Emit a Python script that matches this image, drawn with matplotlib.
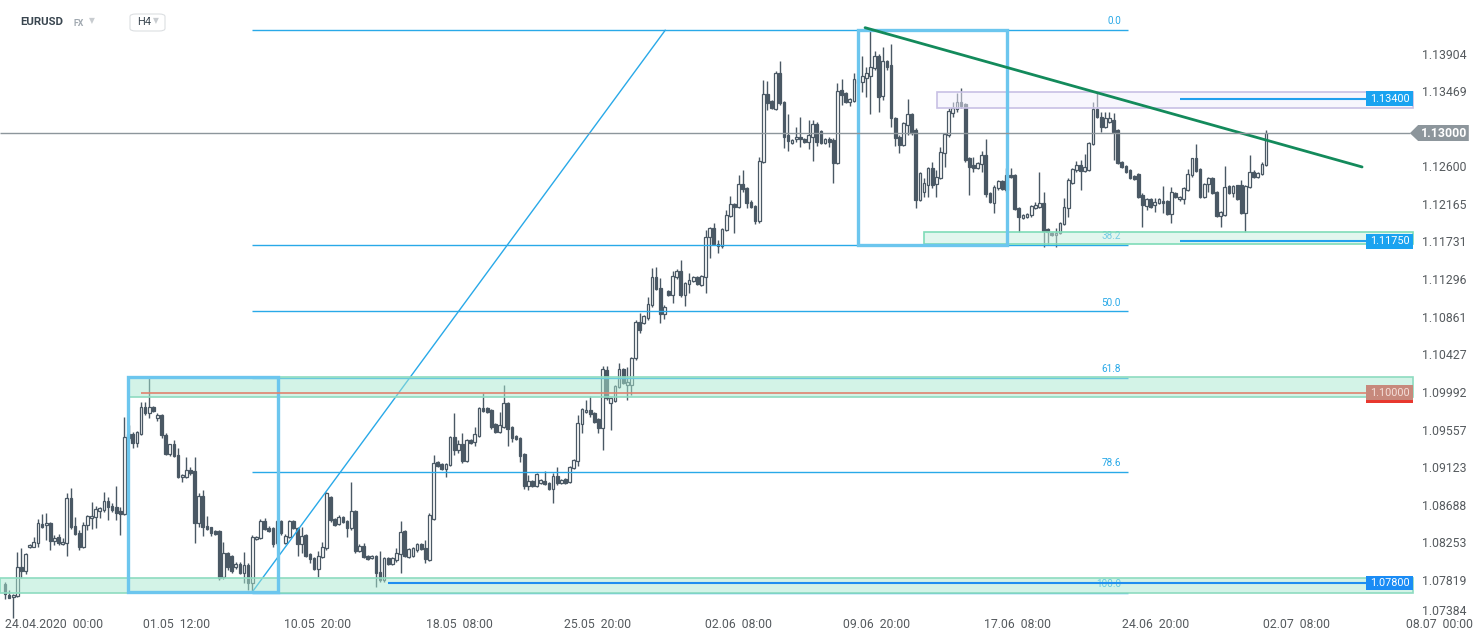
import matplotlib
matplotlib.use("Agg")
import matplotlib.pyplot as plt
from matplotlib.patches import Rectangle, Polygon, FancyBboxPatch
from matplotlib.colors import to_rgba

# EURUSD H4 candles
opens = [
    1.0779, 1.0766, 1.0764, 1.0765, 1.0799, 1.0794, 1.0822, 1.0822, 1.0826, 1.0848,
    1.0847, 1.0849, 1.0829, 1.0833, 1.0825, 1.0826, 1.0878, 1.0846, 1.0838, 1.0822,
    1.0847, 1.0855, 1.0856, 1.0863, 1.0864, 1.0875, 1.0869, 1.0868, 1.0863, 1.0860,
    1.0948, 1.0952, 1.0942, 1.0952, 1.0984, 1.0977, 1.0984, 1.0971, 1.0974, 1.0951,
    1.0929, 1.0941, 1.0928, 1.0903, 1.0903, 1.0911, 1.0910, 1.0849, 1.0881, 1.0846,
    1.0845, 1.0840, 1.0840, 1.0787, 1.0815, 1.0811, 1.0799, 1.0802, 1.0792, 1.0801,
    1.0780, 1.0831, 1.0832, 1.0852, 1.0844, 1.0844, 1.0826, 1.0852, 1.0826, 1.0833,
    1.0852, 1.0844, 1.0825, 1.0836, 1.0814, 1.0809, 1.0796, 1.0810, 1.0821, 1.0879,
    1.0854, 1.0848, 1.0856, 1.0852, 1.0844, 1.0863, 1.0817, 1.0823, 1.0811, 1.0809,
    1.0811, 1.0793, 1.0784, 1.0809, 1.0802, 1.0807, 1.0814, 1.0840, 1.0810, 1.0811,
    1.0818, 1.0825, 1.0820, 1.0807, 1.0854, 1.0920, 1.0918, 1.0912, 1.0916, 1.0949,
    1.0934, 1.0941, 1.0921, 1.0945, 1.0943, 1.0950, 1.0982, 1.0982, 1.0980, 1.0964,
    1.0955, 1.0960, 1.0988, 1.0960, 1.0950, 1.0948, 1.0929, 1.0892, 1.0898, 1.0892,
    1.0896, 1.0898, 1.0896, 1.0889, 1.0904, 1.0896, 1.0900, 1.0897, 1.0913, 1.0921,
    1.0964, 1.0978, 1.0980, 1.0977, 1.0970, 1.0959, 1.1026, 1.0988, 1.0990, 1.1007,
    1.1027, 1.1009, 1.1009, 1.1040, 1.1082, 1.1081, 1.1086, 1.1101, 1.1134, 1.1121,
    1.1091, 1.1118, 1.1113, 1.1134, 1.1141, 1.1113, 1.1126, 1.1129, 1.1134, 1.1125,
    1.1134, 1.1180, 1.1190, 1.1172, 1.1170, 1.1188, 1.1204, 1.1218, 1.1215, 1.1241,
    1.1237, 1.1220, 1.1216, 1.1199, 1.1267, 1.1345, 1.1337, 1.1328, 1.1370, 1.1336,
    1.1298, 1.1289, 1.1293, 1.1296, 1.1293, 1.1290, 1.1296, 1.1311, 1.1303, 1.1289,
    1.1293, 1.1292, 1.1266, 1.1350, 1.1347, 1.1336, 1.1337, 1.1362, 1.1359, 1.1364,
    1.1366, 1.1375, 1.1389, 1.1343, 1.1383, 1.1379, 1.1318, 1.1296, 1.1286, 1.1309,
    1.1322, 1.1304, 1.1223, 1.1232, 1.1240, 1.1260, 1.1241, 1.1248, 1.1277, 1.1298,
    1.1323, 1.1328, 1.1336, 1.1334, 1.1271, 1.1263, 1.1260, 1.1264, 1.1275, 1.1231,
    1.1219, 1.1237, 1.1245, 1.1234, 1.1252, 1.1252, 1.1214, 1.1202, 1.1203, 1.1205,
    1.1214, 1.1215, 1.1219, 1.1189, 1.1185, 1.1182, 1.1185, 1.1195, 1.1214, 1.1242,
    1.1257, 1.1263, 1.1256, 1.1257, 1.1288, 1.1328, 1.1319, 1.1307, 1.1313, 1.1315,
    1.1304, 1.1267, 1.1262, 1.1257, 1.1251, 1.1253, 1.1229, 1.1216, 1.1224, 1.1217,
    1.1219, 1.1222, 1.1222, 1.1207, 1.1231, 1.1224, 1.1224, 1.1234, 1.1252, 1.1271,
    1.1259, 1.1226, 1.1241, 1.1248, 1.1232, 1.1204, 1.1205, 1.1239, 1.1231, 1.1240,
    1.1240, 1.1208, 1.1238, 1.1255, 1.1249, 1.1253, 1.1263,
]
highs = [
    1.0781, 1.0772, 1.0767, 1.0816, 1.0821, 1.0815, 1.0825, 1.0833, 1.0854, 1.0860,
    1.0861, 1.0850, 1.0836, 1.0837, 1.0832, 1.0884, 1.0890, 1.0856, 1.0841, 1.0850,
    1.0859, 1.0874, 1.0869, 1.0868, 1.0885, 1.0879, 1.0873, 1.0892, 1.0868, 1.0972,
    1.0963, 1.0955, 1.0956, 1.0989, 1.0989, 1.1017, 1.0985, 1.0977, 1.0975, 1.0954,
    1.0941, 1.0945, 1.0936, 1.0906, 1.0926, 1.0914, 1.0926, 1.0884, 1.0888, 1.0857,
    1.0845, 1.0841, 1.0841, 1.0828, 1.0816, 1.0812, 1.0804, 1.0804, 1.0816, 1.0803,
    1.0836, 1.0834, 1.0854, 1.0855, 1.0846, 1.0845, 1.0853, 1.0853, 1.0837, 1.0853,
    1.0853, 1.0845, 1.0845, 1.0837, 1.0815, 1.0810, 1.0817, 1.0828, 1.0885, 1.0881,
    1.0855, 1.0859, 1.0857, 1.0853, 1.0897, 1.0864, 1.0825, 1.0826, 1.0812, 1.0812,
    1.0812, 1.0817, 1.0810, 1.0810, 1.0810, 1.0820, 1.0852, 1.0841, 1.0820, 1.0822,
    1.0826, 1.0826, 1.0830, 1.0861, 1.0928, 1.0921, 1.0919, 1.0919, 1.0950, 1.0977,
    1.0945, 1.0954, 1.0947, 1.0947, 1.0960, 1.0984, 1.1000, 1.0984, 1.0981, 1.0965,
    1.0978, 1.1009, 1.0989, 1.0962, 1.0951, 1.0949, 1.0930, 1.0905, 1.0899, 1.0907,
    1.0900, 1.0910, 1.0897, 1.0907, 1.0914, 1.0900, 1.0901, 1.0915, 1.0923, 1.0974,
    1.0982, 1.0992, 1.0996, 1.0978, 1.0971, 1.1031, 1.1031, 1.0995, 1.1009, 1.1034,
    1.1029, 1.1030, 1.1041, 1.1084, 1.1092, 1.1090, 1.1111, 1.1144, 1.1145, 1.1133,
    1.1101, 1.1119, 1.1141, 1.1143, 1.1153, 1.1128, 1.1138, 1.1135, 1.1135, 1.1136,
    1.1188, 1.1192, 1.1196, 1.1177, 1.1190, 1.1211, 1.1227, 1.1219, 1.1252, 1.1257,
    1.1238, 1.1223, 1.1217, 1.1272, 1.1362, 1.1360, 1.1338, 1.1372, 1.1384, 1.1337,
    1.1322, 1.1293, 1.1307, 1.1319, 1.1294, 1.1315, 1.1315, 1.1313, 1.1304, 1.1294,
    1.1296, 1.1294, 1.1358, 1.1363, 1.1348, 1.1341, 1.1370, 1.1363, 1.1389, 1.1377,
    1.1419, 1.1395, 1.1392, 1.1400, 1.1385, 1.1403, 1.1319, 1.1298, 1.1313, 1.1340,
    1.1323, 1.1306, 1.1255, 1.1248, 1.1261, 1.1267, 1.1257, 1.1284, 1.1300, 1.1329,
    1.1336, 1.1347, 1.1352, 1.1335, 1.1273, 1.1273, 1.1267, 1.1279, 1.1293, 1.1232,
    1.1240, 1.1246, 1.1246, 1.1260, 1.1260, 1.1253, 1.1215, 1.1207, 1.1208, 1.1217,
    1.1221, 1.1255, 1.1232, 1.1190, 1.1186, 1.1190, 1.1197, 1.1225, 1.1248, 1.1260,
    1.1268, 1.1269, 1.1276, 1.1290, 1.1336, 1.1347, 1.1325, 1.1325, 1.1325, 1.1323,
    1.1305, 1.1268, 1.1263, 1.1259, 1.1252, 1.1254, 1.1231, 1.1225, 1.1225, 1.1225,
    1.1225, 1.1239, 1.1223, 1.1238, 1.1232, 1.1227, 1.1238, 1.1259, 1.1271, 1.1288,
    1.1260, 1.1242, 1.1249, 1.1249, 1.1233, 1.1210, 1.1262, 1.1240, 1.1240, 1.1240,
    1.1246, 1.1240, 1.1275, 1.1257, 1.1255, 1.1267, 1.1304,
]
lows = [
    1.0761, 1.0763, 1.0740, 1.0764, 1.0786, 1.0790, 1.0821, 1.0822, 1.0822, 1.0844,
    1.0830, 1.0818, 1.0824, 1.0824, 1.0824, 1.0811, 1.0843, 1.0836, 1.0818, 1.0821,
    1.0841, 1.0843, 1.0844, 1.0855, 1.0862, 1.0853, 1.0862, 1.0853, 1.0836, 1.0859,
    1.0945, 1.0936, 1.0937, 1.0951, 1.0974, 1.0971, 1.0978, 1.0967, 1.0948, 1.0928,
    1.0927, 1.0926, 1.0901, 1.0897, 1.0901, 1.0905, 1.0826, 1.0845, 1.0834, 1.0841,
    1.0834, 1.0836, 1.0784, 1.0785, 1.0795, 1.0792, 1.0796, 1.0791, 1.0780, 1.0772,
    1.0769, 1.0830, 1.0831, 1.0841, 1.0839, 1.0822, 1.0824, 1.0836, 1.0825, 1.0832,
    1.0843, 1.0811, 1.0815, 1.0810, 1.0803, 1.0795, 1.0787, 1.0809, 1.0818, 1.0851,
    1.0846, 1.0847, 1.0849, 1.0833, 1.0841, 1.0815, 1.0816, 1.0809, 1.0807, 1.0808,
    1.0775, 1.0781, 1.0781, 1.0801, 1.0801, 1.0804, 1.0792, 1.0810, 1.0809, 1.0810,
    1.0816, 1.0818, 1.0803, 1.0805, 1.0853, 1.0914, 1.0911, 1.0903, 1.0915, 1.0928,
    1.0930, 1.0919, 1.0920, 1.0941, 1.0938, 1.0949, 1.0978, 1.0977, 1.0958, 1.0954,
    1.0954, 1.0959, 1.0938, 1.0943, 1.0945, 1.0920, 1.0889, 1.0888, 1.0891, 1.0891,
    1.0895, 1.0893, 1.0888, 1.0873, 1.0893, 1.0895, 1.0895, 1.0896, 1.0912, 1.0915,
    1.0954, 1.0977, 1.0972, 1.0965, 1.0954, 1.0934, 1.0992, 1.0957, 1.0989, 1.1005,
    1.1010, 1.0992, 1.0997, 1.1038, 1.1069, 1.1079, 1.1084, 1.1099, 1.1119, 1.1081,
    1.1085, 1.1112, 1.1104, 1.1131, 1.1111, 1.1100, 1.1115, 1.1128, 1.1125, 1.1123,
    1.1115, 1.1156, 1.1171, 1.1162, 1.1167, 1.1187, 1.1203, 1.1185, 1.1214, 1.1232,
    1.1214, 1.1214, 1.1195, 1.1196, 1.1266, 1.1327, 1.1328, 1.1327, 1.1333, 1.1283,
    1.1279, 1.1288, 1.1290, 1.1284, 1.1289, 1.1282, 1.1268, 1.1285, 1.1288, 1.1288,
    1.1284, 1.1242, 1.1264, 1.1333, 1.1335, 1.1331, 1.1336, 1.1357, 1.1348, 1.1342,
    1.1322, 1.1373, 1.1325, 1.1338, 1.1373, 1.1307, 1.1285, 1.1277, 1.1285, 1.1298,
    1.1298, 1.1214, 1.1222, 1.1226, 1.1226, 1.1237, 1.1226, 1.1247, 1.1261, 1.1296,
    1.1319, 1.1325, 1.1329, 1.1267, 1.1229, 1.1255, 1.1259, 1.1255, 1.1226, 1.1219,
    1.1208, 1.1234, 1.1234, 1.1232, 1.1248, 1.1211, 1.1186, 1.1201, 1.1202, 1.1203,
    1.1212, 1.1214, 1.1169, 1.1172, 1.1181, 1.1169, 1.1184, 1.1194, 1.1203, 1.1241,
    1.1255, 1.1234, 1.1255, 1.1256, 1.1286, 1.1318, 1.1301, 1.1306, 1.1312, 1.1269,
    1.1264, 1.1260, 1.1254, 1.1247, 1.1246, 1.1225, 1.1192, 1.1211, 1.1214, 1.1209,
    1.1218, 1.1208, 1.1205, 1.1196, 1.1225, 1.1222, 1.1218, 1.1233, 1.1249, 1.1255,
    1.1225, 1.1225, 1.1232, 1.1230, 1.1203, 1.1192, 1.1204, 1.1230, 1.1226, 1.1223,
    1.1207, 1.1186, 1.1237, 1.1248, 1.1248, 1.1252, 1.1262,
]
closes = [
    1.0767, 1.0763, 1.0766, 1.0799, 1.0794, 1.0814, 1.0824, 1.0828, 1.0849, 1.0845,
    1.0849, 1.0829, 1.0832, 1.0826, 1.0828, 1.0878, 1.0845, 1.0837, 1.0822, 1.0847,
    1.0857, 1.0857, 1.0866, 1.0867, 1.0875, 1.0868, 1.0864, 1.0861, 1.0860, 1.0949,
    1.0952, 1.0942, 1.0955, 1.0984, 1.0977, 1.0984, 1.0979, 1.0974, 1.0951, 1.0929,
    1.0941, 1.0927, 1.0903, 1.0905, 1.0911, 1.0907, 1.0849, 1.0881, 1.0845, 1.0843,
    1.0838, 1.0837, 1.0786, 1.0815, 1.0799, 1.0794, 1.0802, 1.0792, 1.0801, 1.0780,
    1.0833, 1.0833, 1.0852, 1.0843, 1.0840, 1.0825, 1.0852, 1.0838, 1.0834, 1.0852,
    1.0844, 1.0825, 1.0834, 1.0811, 1.0808, 1.0796, 1.0811, 1.0822, 1.0884, 1.0853,
    1.0847, 1.0856, 1.0851, 1.0844, 1.0863, 1.0817, 1.0823, 1.0810, 1.0808, 1.0811,
    1.0792, 1.0784, 1.0809, 1.0802, 1.0809, 1.0815, 1.0839, 1.0811, 1.0819, 1.0820,
    1.0825, 1.0819, 1.0808, 1.0859, 1.0919, 1.0915, 1.0912, 1.0918, 1.0949, 1.0934,
    1.0941, 1.0921, 1.0945, 1.0942, 1.0952, 1.0982, 1.0979, 1.0978, 1.0960, 1.0955,
    1.0963, 1.0988, 1.0958, 1.0948, 1.0947, 1.0927, 1.0892, 1.0898, 1.0892, 1.0906,
    1.0899, 1.0895, 1.0889, 1.0904, 1.0896, 1.0899, 1.0896, 1.0914, 1.0922, 1.0965,
    1.0981, 1.0980, 1.0975, 1.0966, 1.0959, 1.1027, 1.0994, 1.0994, 1.1008, 1.1027,
    1.1011, 1.1012, 1.1040, 1.1082, 1.1073, 1.1089, 1.1103, 1.1134, 1.1120, 1.1091,
    1.1099, 1.1113, 1.1135, 1.1141, 1.1113, 1.1127, 1.1130, 1.1134, 1.1126, 1.1135,
    1.1180, 1.1190, 1.1172, 1.1170, 1.1189, 1.1205, 1.1218, 1.1215, 1.1241, 1.1236,
    1.1219, 1.1215, 1.1199, 1.1268, 1.1345, 1.1335, 1.1329, 1.1370, 1.1335, 1.1296,
    1.1291, 1.1292, 1.1296, 1.1293, 1.1290, 1.1298, 1.1311, 1.1290, 1.1289, 1.1293,
    1.1290, 1.1266, 1.1349, 1.1344, 1.1336, 1.1340, 1.1363, 1.1358, 1.1366, 1.1370,
    1.1377, 1.1389, 1.1342, 1.1383, 1.1377, 1.1318, 1.1294, 1.1286, 1.1312, 1.1322,
    1.1300, 1.1223, 1.1254, 1.1242, 1.1260, 1.1240, 1.1249, 1.1278, 1.1299, 1.1326,
    1.1329, 1.1336, 1.1331, 1.1269, 1.1261, 1.1260, 1.1266, 1.1275, 1.1230, 1.1221,
    1.1238, 1.1245, 1.1236, 1.1252, 1.1249, 1.1212, 1.1203, 1.1205, 1.1207, 1.1216,
    1.1217, 1.1219, 1.1187, 1.1186, 1.1182, 1.1185, 1.1196, 1.1215, 1.1246, 1.1259,
    1.1263, 1.1256, 1.1261, 1.1289, 1.1328, 1.1319, 1.1307, 1.1318, 1.1318, 1.1301,
    1.1266, 1.1261, 1.1255, 1.1248, 1.1247, 1.1226, 1.1217, 1.1224, 1.1215, 1.1221,
    1.1224, 1.1219, 1.1207, 1.1232, 1.1226, 1.1226, 1.1237, 1.1253, 1.1271, 1.1256,
    1.1226, 1.1241, 1.1248, 1.1231, 1.1204, 1.1209, 1.1238, 1.1231, 1.1239, 1.1224,
    1.1208, 1.1239, 1.1255, 1.1249, 1.1254, 1.1264, 1.1300,
]

date_labels = ["24.04.2020  00:00", "01.05  12:00", "10.05  20:00", "18.05  08:00",
               "25.05  20:00", "02.06  08:00", "09.06  20:00", "17.06  08:00",
               "24.06  20:00", "02.07  08:00", "08.07  00:00"]
date_pos = [0, 41.7, 75.9, 110.2, 143.7, 177.9, 211.6, 245.6, 279.3, 313.5, 348.2]

price_ticks = [1.13904, 1.13469, 1.12600, 1.12165, 1.11731, 1.11296, 1.10861,
               1.10427, 1.09992, 1.09557, 1.09123, 1.08688, 1.08253, 1.07819]
bottom_tick = "1.07384"

fib_levels = [0.0, 38.2, 50.0, 61.8, 78.6, 100.0]
fib_high = 1.1419
fib_low = 1.0769
last_price = 1.13000

DARK = "#4a5864"
BLUE = "#29a9e8"

fig = plt.figure(figsize=(14.82, 6.43), dpi=100)
ax = fig.add_axes([0, 0, 1, 1])
ax.set_xlim(-1.21, 358.4)
ax.set_ylim(1.07107, 1.1454)
ax.axis("off")

# candles
for i in range(len(closes)):
    o, h, l, c = opens[i], highs[i], lows[i], closes[i]
    ax.vlines(i, l, h, color=DARK, lw=1, zorder=3)
    fc = "white" if c >= o else DARK
    body = max(abs(c - o), 0.00005)
    ax.add_patch(Rectangle((i - 0.33, min(o, c)), 0.66, body, fc=fc, ec=DARK,
                           lw=0.9, zorder=4))

# zones (drawn over the candles, half transparent)
def zone(x0, x1, p0, p1, fc, ec):
    ax.add_patch(Rectangle((x0, p0), x1 - x0, p1 - p0, fc=to_rgba(fc, 0.5),
                           ec=ec, lw=1.2, zorder=5))

zone(29.85, 341.7, 1.0995, 1.1018, "#a9e9d1", "#8edcc0")
zone(-1.21, 341.7, 1.0769, 1.0786, "#a9e9d1", "#8edcc0")
zone(223.0, 341.7, 1.1172, 1.1186, "#c7efdf", "#7fdcb8")
zone(226.2, 341.7, 1.1329, 1.1348, "#f1effd", "#c8c0e4")

# fibonacci retracement
ax.plot([59.9, 160.2], [fib_low, fib_high], color=BLUE, lw=1, zorder=4.5)
for lev in fib_levels:
    p = fib_high - (fib_high - fib_low) * lev / 100
    ax.hlines(p, 59.9, 272.5, color=BLUE, lw=1, zorder=4.5)
    ax.text(270.8, p + 0.00045, f"{lev:.1f}", color=BLUE, fontsize=7.2,
            ha="right", va="bottom", zorder=4.5, family="Roboto")

# rectangles
for x0, x1, p0, p1 in [(29.85, 66.2, 1.0770, 1.1018), (207.0, 243.1, 1.1171, 1.1419)]:
    ax.add_patch(Rectangle((x0, p0), x1 - x0, p1 - p0, fill=False,
                           ec="#6cc6ee", lw=2.4, zorder=6))

# trend line
ax.plot([208.7, 329.3], [1.1422, 1.1261], color="#138a5b", lw=2, zorder=6,
        solid_capstyle="round")

# horizontal levels
ax.hlines(last_price, -1.21, 340.9, color="#8d969c", lw=1, zorder=6)
ax.hlines(1.1000, 33.0, 330.3, color="#e0836f", lw=1.2, zorder=6)
ax.hlines(1.1340, 285.1, 330.3, color="#21a0ee", lw=1.5, zorder=6)
ax.hlines(1.1175, 285.1, 330.3, color="#21a0ee", lw=1.5, zorder=6)
ax.hlines(1.0780, 92.9, 330.3, color="#1e8ef0", lw=1.5, zorder=6)

# level labels
def level_label(p, txt, bg, tc="white"):
    ax.add_patch(Rectangle((330.3, p - 0.00085), 11.4, 0.0017, fc=bg, ec="none", zorder=7))
    ax.text(336.0, p, txt, color=tc, fontsize=7.8, ha="center", va="center",
            zorder=8, family="Roboto")

level_label(1.1340, "1.13400", "#1aa3f0")
level_label(1.1175, "1.11750", "#1aa3f0")
level_label(1.1000, "1.10000", "#c7897c", "#f5dfd9")
ax.add_patch(Rectangle((330.3, 1.1000 - 0.00115), 11.4, 0.0003, fc="#e8382f",
                       ec="none", zorder=7))
level_label(1.0780, "1.07800", "#1a8cf5")

# current price marker
ax.add_patch(Polygon([(340.9, last_price), (342.9, 1.13095), (355.2, 1.13095),
                      (355.2, 1.12910), (342.9, 1.12910)], closed=True,
                     fc="#8d969c", ec="none", zorder=7))
ax.text(349.1, last_price, "1.13000", color="white", fontsize=8.8, weight="bold",
        ha="center", va="center", zorder=8, family="Roboto")

# price axis labels
for p in price_ticks:
    ax.text(343.9, p, f"{p:.5f}", color="#555a5e", fontsize=8.8, ha="left",
            va="center", family="Roboto")
ax.text(343.9, 1.0747, bottom_tick, color="#555a5e", fontsize=8.8, ha="left",
        va="center", family="Roboto")

# date labels
for pos, lab in zip(date_pos, date_labels):
    ha = "left" if pos == 0 else "center"
    ax.text(pos, 1.0732, lab, color="#555a5e", fontsize=8.8, ha=ha, va="center",
            family="Roboto")

# header
fig.text(20 / 1482, 1 - 22 / 643, "EURUSD", color="#3a4650", fontsize=8.2,
         weight="bold", va="center", family="Roboto")
fig.text(73 / 1482, 1 - 23 / 643, "FX", color="#a0a8b0", fontsize=6.3,
         weight="bold", va="center", family="Roboto")
fig.text(89 / 1482, 1 - 21 / 643, "\u25bc", color="#c8ccd0", fontsize=5.5,
         va="center", family="DejaVu Sans")
fig.patches.append(FancyBboxPatch((130 / 1482, 1 - 31 / 643), 35 / 1482, 17 / 643,
                                  boxstyle="round,pad=0,rounding_size=0.004",
                                  transform=fig.transFigure, fc="white",
                                  ec="#dcdfe2", lw=0.8))
fig.text(137 / 1482, 1 - 22 / 643, "H4", color="#3a4650", fontsize=8,
         va="center", family="Roboto")
fig.text(153 / 1482, 1 - 21 / 643, "\u25bc", color="#c8ccd0", fontsize=5.5,
         va="center", family="DejaVu Sans")

fig.savefig("out.png", dpi=100)
